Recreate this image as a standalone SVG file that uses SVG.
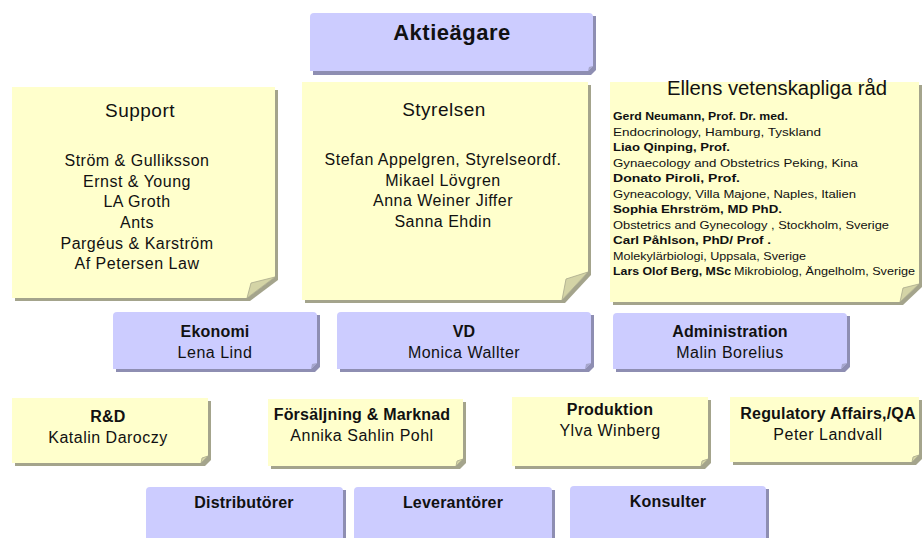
<svg xmlns="http://www.w3.org/2000/svg" width="922" height="538" viewBox="0 0 922 538">
<style>
.note{fill:#FFFFCC}
.nsh{fill:#A4A48C}
.flap{fill:#D4D4A6;stroke:#A8A88C;stroke-width:0.8}
.box{fill:#CCCCFF}
.bsh{fill:#8E8EB2}
.bflap{fill:#A6A6CC}
text{font-family:"Liberation Sans",Arial,sans-serif;fill:#111;text-anchor:middle}
.t{font-size:19px;letter-spacing:0.5px}
.l{font-size:16px;letter-spacing:0.5px}
.b{font-weight:bold;font-size:16px;letter-spacing:0.2px}
.big{font-weight:bold;font-size:22px;letter-spacing:0.5px}
.s{font-size:11px;text-anchor:start}
.sb{font-size:11px;font-weight:bold;text-anchor:start}
</style>
<rect width="922" height="538" fill="#FFFFFF"/>
<g id="connectors"/>

<g id="aktieagare">
<path class="bsh" d="M313 16 H596 V70 L591 75 H313 Z"/>
<path class="box" d="M314 13 H589 Q593 13 593 17 V66 L588 71 H310 V17 Q310 13 314 13 Z"/>
<path class="bflap" d="M593 66 L588 71 L589 67 Z"/>
<text class="big" x="452" y="40">Aktieägare</text>
</g>

<g id="support">
<path class="nsh" d="M15 90 H278 V280 L250 301 H15 Z"/>
<path class="note" d="M12 87 H275 V277 L247 298 H12 Z"/>
<path class="flap" d="M275 277 L247 298 L251 283 Z"/>
<text class="t" x="140" y="117">Support</text>
<text class="l" x="137" y="166">Ström &amp; Gulliksson</text>
<text class="l" x="137" y="187">Ernst &amp; Young</text>
<text class="l" x="137" y="207">LA Groth</text>
<text class="l" x="137" y="228">Ants</text>
<text class="l" x="137" y="249">Pargéus &amp; Karström</text>
<text class="l" x="137" y="269">Af Petersen Law</text>
</g>

<g id="styrelsen">
<path class="nsh" d="M305 85 H591 V275 L565 303 H305 Z"/>
<path class="note" d="M302 82 H588 V272 L562 300 H302 Z"/>
<path class="flap" d="M588 272 L562 300 L566 279 Z"/>
<text class="t" x="444" y="116">Styrelsen</text>
<text class="l" x="443" y="165">Stefan Appelgren, Styrelseordf.</text>
<text class="l" x="443" y="186">Mikael Lövgren</text>
<text class="l" x="443" y="206">Anna Weiner Jiffer</text>
<text class="l" x="443" y="227">Sanna Ehdin</text>
</g>

<g id="vetenskapliga-rad">
<path class="nsh" d="M613 85 H922 V287 L903 305 H613 Z"/>
<path class="note" d="M610 82 H919 V284 L900 302 H610 Z"/>
<path class="flap" d="M919 284 L900 302 L903 288 Z"/>
<text x="777" y="95" style="font-size:20px" textLength="220" lengthAdjust="spacingAndGlyphs">Ellens vetenskapliga råd</text>
<text class="sb" x="613" y="120" textLength="175" lengthAdjust="spacingAndGlyphs">Gerd Neumann, Prof. Dr. med.</text>
<text class="s" x="613" y="135.5" textLength="208" lengthAdjust="spacingAndGlyphs">Endocrinology,  Hamburg, Tyskland</text>
<text class="sb" x="613" y="151" textLength="117" lengthAdjust="spacingAndGlyphs">Liao Qinping, Prof.</text>
<text class="s" x="613" y="166.5" textLength="245" lengthAdjust="spacingAndGlyphs">Gynaecology and Obstetrics  Peking, Kina</text>
<text class="sb" x="613" y="182" textLength="127" lengthAdjust="spacingAndGlyphs">Donato Piroli, Prof.</text>
<text class="s" x="613" y="197.5" textLength="243" lengthAdjust="spacingAndGlyphs">Gyneacology, Villa Majone, Naples,  Italien</text>
<text class="sb" x="613" y="213" textLength="169" lengthAdjust="spacingAndGlyphs">Sophia Ehrström, MD PhD.</text>
<text class="s" x="613" y="228.5" textLength="276" lengthAdjust="spacingAndGlyphs">Obstetrics and Gynecology , Stockholm, Sverige</text>
<text class="sb" x="613" y="244" textLength="158" lengthAdjust="spacingAndGlyphs">Carl Påhlson, PhD/ Prof .</text>
<text class="s" x="613" y="259.5" textLength="193" lengthAdjust="spacingAndGlyphs">Molekylärbiologi,  Uppsala,  Sverige</text>
<text class="sb" x="613" y="275" textLength="118" lengthAdjust="spacingAndGlyphs">Lars Olof Berg, MSc</text>
<text class="s" x="734" y="275" textLength="181" lengthAdjust="spacingAndGlyphs">Mikrobiolog, Ängelholm, Sverige</text>
</g>

<g id="ekonomi">
<path class="bsh" d="M116 315 H320 V367 L315 372 H116 Z"/>
<path class="box" d="M117 312 H313 Q317 312 317 316 V363 L311 369 H113 V316 Q113 312 117 312 Z"/>
<path class="bflap" d="M317 363 L311 369 L312 364 Z"/>
<text class="b" x="215" y="337">Ekonomi</text>
<text class="l" x="215" y="358">Lena Lind</text>
</g>

<g id="vd">
<path class="bsh" d="M340 315 H594 V367 L589 372 H340 Z"/>
<path class="box" d="M341 312 H587 Q591 312 591 316 V363 L585 369 H337 V316 Q337 312 341 312 Z"/>
<path class="bflap" d="M591 363 L585 369 L586 364 Z"/>
<text class="b" x="464" y="337">VD</text>
<text class="l" x="464" y="358">Monica Wallter</text>
</g>

<g id="administration">
<path class="bsh" d="M616 316 H850 V367 L845 372 H616 Z"/>
<path class="box" d="M617 313 H843 Q847 313 847 317 V363 L841 369 H613 V317 Q613 313 617 313 Z"/>
<path class="bflap" d="M847 363 L841 369 L842 364 Z"/>
<text class="b" x="730" y="337">Administration</text>
<text class="l" x="730" y="358">Malin Borelius</text>
</g>

<g id="rd">
<path class="nsh" d="M15 401 H211 V460 L205 466 H15 Z"/>
<path class="note" d="M12 398 H208 V456 L201 463 H12 Z"/>
<path class="flap" d="M208 456 L201 463 L202 458 Z"/>
<text class="b" x="108" y="422">R&amp;D</text>
<text class="l" x="108" y="443">Katalin Daroczy</text>
</g>

<g id="forsaljning">
<path class="nsh" d="M271 402 H466 V463 L460 469 H271 Z"/>
<path class="note" d="M268 399 H463 V459 L456 466 H268 Z"/>
<path class="flap" d="M463 459 L456 466 L457 461 Z"/>
<text class="b" x="362" y="420">Försäljning &amp; Marknad</text>
<text class="l" x="362" y="441">Annika Sahlin Pohl</text>
</g>

<g id="produktion">
<path class="nsh" d="M515 400 H711 V463 L705 469 H515 Z"/>
<path class="note" d="M512 397 H708 V459 L701 466 H512 Z"/>
<path class="flap" d="M708 459 L701 466 L702 461 Z"/>
<text class="b" x="610" y="415">Produktion</text>
<text class="l" x="610" y="436">Ylva Winberg</text>
</g>

<g id="regulatory">
<path class="nsh" d="M733 400 H922 V459 L916 465 H733 Z"/>
<path class="note" d="M730 397 H919 V455 L912 462 H730 Z"/>
<path class="flap" d="M919 455 L912 462 L913 457 Z"/>
<text class="b" x="828" y="419">Regulatory Affairs,/QA</text>
<text class="l" x="828" y="440">Peter Landvall</text>
</g>

<g id="distributorer">
<path class="bsh" d="M149 490 H346 V545 H149 Z"/>
<path class="box" d="M150 487 H339 Q343 487 343 491 V545 H146 V491 Q146 487 150 487 Z"/>
<text class="b" x="244" y="508">Distributörer</text>
</g>

<g id="leverantorer">
<path class="bsh" d="M357 490 H555 V545 H357 Z"/>
<path class="box" d="M358 487 H548 Q552 487 552 491 V545 H354 V491 Q354 487 358 487 Z"/>
<text class="b" x="453" y="508">Leverantörer</text>
</g>

<g id="konsulter">
<path class="bsh" d="M573 489 H769 V545 H573 Z"/>
<path class="box" d="M574 486 H762 Q766 486 766 490 V545 H570 V490 Q570 486 574 486 Z"/>
<text class="b" x="668" y="507">Konsulter</text>
</g>
</svg>
